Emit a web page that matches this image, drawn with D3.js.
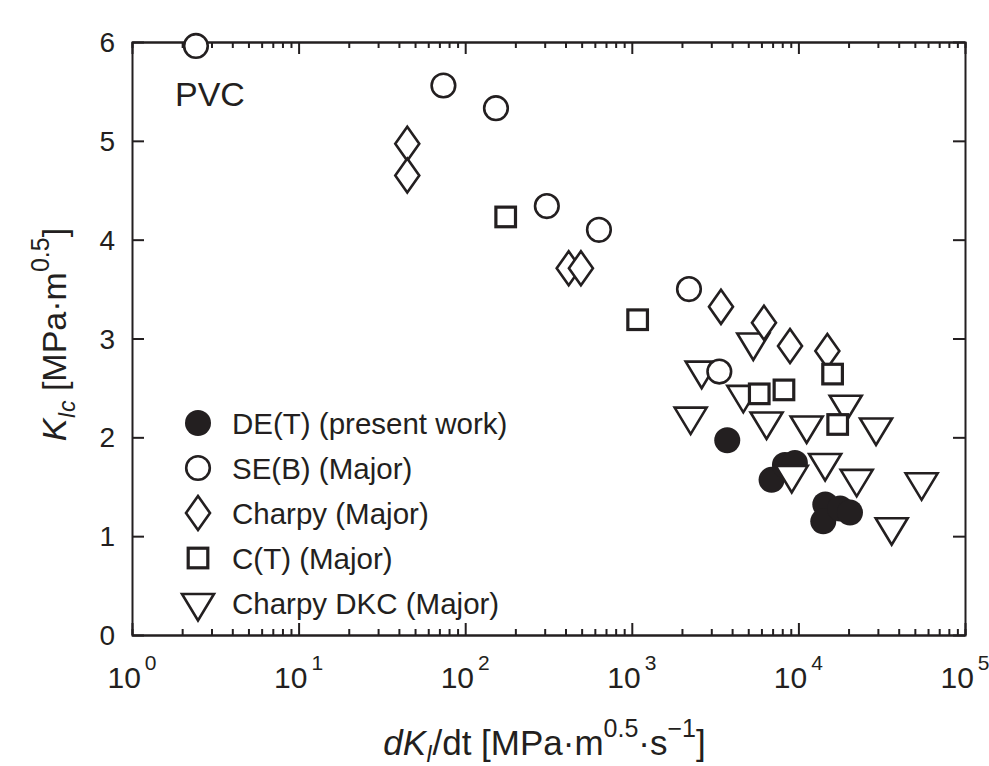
<!DOCTYPE html>
<html>
<head>
<meta charset="utf-8">
<script src="https://cdn.jsdelivr.net/npm/d3@7"></script>
<style>
  body { margin: 0; background: #fff; }
  text { font-family: "Liberation Sans", Arial, sans-serif; fill: #231f20; }
</style>
</head>
<body>
<svg id="chart" width="989" height="766"></svg>
<script>
// values: [dK/dt, KIc]
var deT = [[3740, 1.97], [6900, 1.57], [8300, 1.72], [9530, 1.74],
           [14500, 1.32], [14100, 1.15], [17800, 1.28], [20400, 1.24]];
var seB = [[2.42, 5.96], [74, 5.56], [153, 5.33], [309, 4.34], [635, 4.10],
           [2204, 3.50], [3352, 2.665]];
var charpy = [[44.9, 4.97], [44.9, 4.65], [418, 3.71], [495, 3.71], [3430, 3.32],
              [6214, 3.16], [8906, 2.925], [14920, 2.874]];
var cT = [[175, 4.23], [1084, 3.19], [5820, 2.44], [8190, 2.48], [16040, 2.64], [17210, 2.13]];
var dkc = [[2627, 2.675], [5360, 2.96], [4670, 2.43], [2255, 2.21], [6440, 2.16],
           [11210, 2.12], [19230, 2.33], [29240, 2.10], [9120, 1.62], [14470, 1.74],
           [22380, 1.58], [54900, 1.545], [36300, 1.09]];
var legendLabels = ["DE(T) (present work)", "SE(B) (Major)", "Charpy (Major)", "C(T) (Major)", "Charpy DKC (Major)"];
var xDecades = [0, 1, 2, 3, 4, 5];
var yTicks = [0, 1, 2, 3, 4, 5, 6];

var margins = {top: 42, right: 24, bottom: 131, left: 132},
    width = 989 - margins.left - margins.right,
    height = 766 - margins.top - margins.bottom;

var svg = d3.select('#chart')
  .append('g')
  .attr('transform', 'translate(' + margins.left + ',' + margins.top + ')');

var xScale = d3.scaleLog().domain([1, 1e5]).range([0, width]);
var yScale = d3.scaleLinear().domain([0, 6]).range([height, 0]);

var ink = '#231f20';

// marker shapes
var shapes = {
  filled: function (g) { g.append('circle').attr('r', 13).style('fill', ink); },
  circle: function (g) { g.append('circle').attr('r', 11.8).style('fill', 'white').style('stroke', ink).style('stroke-width', 2.6); },
  diamond: function (g) { g.append('path').attr('d', 'M0,-17L12,0L0,17L-12,0Z').style('fill', 'white').style('stroke', ink).style('stroke-width', 2.6); },
  square: function (g) { g.append('rect').attr('x', -9.8).attr('y', -9.8).attr('width', 19.6).attr('height', 19.6).style('fill', 'white').style('stroke', ink).style('stroke-width', 3.2); },
  triangle: function (g) { g.append('path').attr('d', 'M-16,-9L16,-9L0,17.5Z').style('fill', 'white').style('stroke', ink).style('stroke-width', 2.6); }
};

// axes: ticks point inward on all four sides
var minor = xScale.ticks().filter(function (d) { return Math.abs(Math.log10(d) % 1) > 1e-6; });
var major = xDecades.map(function (d) { return Math.pow(10, d); });

function xAxisGroup(axisFn, ty) {
  var g = svg.append('g').attr('transform', 'translate(0,' + ty + ')');
  g.append('g').call(axisFn(xScale).tickValues(minor).tickSize(-6).tickFormat(''));
  g.append('g').call(axisFn(xScale).tickValues(major).tickSize(-12).tickFormat('').tickSizeOuter(0));
  return g;
}
xAxisGroup(d3.axisBottom, height);
xAxisGroup(d3.axisTop, 0);
svg.append('g').call(d3.axisLeft(yScale).tickValues(yTicks).tickSize(-12).tickFormat('').tickSizeOuter(0));
svg.append('g').attr('transform', 'translate(' + width + ',0)')
  .call(d3.axisRight(yScale).tickValues(yTicks).tickSize(-12).tickFormat('').tickSizeOuter(0));

svg.selectAll('.domain, .tick line').style('stroke', ink).style('stroke-width', 2);

// tick labels
svg.selectAll('.ylab')
  .data(yTicks)
  .enter()
  .append('text')
    .attr('x', -17)
    .attr('y', d => yScale(d))
    .attr('dy', '0.36em')
    .attr('text-anchor', 'end')
    .style('font-size', '28px')
    .text(d => d);

var xl = svg.selectAll('.xlab')
  .data(xDecades)
  .enter()
  .append('text')
    .attr('x', d => xScale(Math.pow(10, d)))
    .attr('y', height + 53)
    .attr('text-anchor', 'middle')
    .style('font-size', '30px');
xl.append('tspan').text('10');
xl.append('tspan').attr('dx', 4).attr('dy', -18).style('font-size', '21px').text(d => d);

// axis titles
var xt = svg.append('text')
  .attr('x', width / 2 - 4)
  .attr('y', height + 120)
  .attr('text-anchor', 'middle')
  .style('font-size', '35px');
xt.append('tspan').style('font-style', 'italic').text('dK');
xt.append('tspan').attr('dy', 7).style('font-size', '23px').style('font-style', 'italic').text('I');
xt.append('tspan').attr('dy', -7).text('/dt [MPa\u00b7m');
xt.append('tspan').attr('dy', -18).style('font-size', '25px').text('0.5');
xt.append('tspan').attr('dy', 18).text('\u00b7s');
xt.append('tspan').attr('dy', -18).style('font-size', '25px').text('\u22121');
xt.append('tspan').attr('dy', 18).text(']');

var yt = svg.append('text')
  .attr('transform', 'translate(' + (-66) + ',' + (height / 2 - 4) + ') rotate(-90)')
  .attr('text-anchor', 'middle')
  .style('font-size', '34px');
yt.append('tspan').style('font-style', 'italic').text('K');
yt.append('tspan').attr('dy', 9).style('font-size', '23px').style('font-style', 'italic').text('Ic');
yt.append('tspan').attr('dy', -9).text(' [MPa\u00b7m');
yt.append('tspan').attr('dy', -17).style('font-size', '25px').text('0.5');
yt.append('tspan').attr('dy', 17).text(']');

svg.append('text')
  .attr('x', 43)
  .attr('y', 64)
  .style('font-size', '34px')
  .text('PVC');

// data points
function plotSeries(data, shape) {
  svg.append('g').selectAll('g')
    .data(data)
    .enter()
    .append('g')
      .attr('transform', d => 'translate(' + xScale(d[0]) + ',' + yScale(d[1]) + ')')
      .each(function () { shapes[shape](d3.select(this)); });
}
plotSeries(deT, 'filled');
plotSeries(dkc, 'triangle');
plotSeries(charpy, 'diamond');
plotSeries(seB, 'circle');
plotSeries(cT, 'square');

// legend
var legendShapes = ['filled', 'circle', 'diamond', 'square', 'triangle'];
var legend = svg.selectAll('.legend')
  .data(legendLabels)
  .enter()
  .append('g')
    .attr('transform', (d, i) => 'translate(66,' + (381 + i * 45) + ')');
legend.each(function (d, i) { shapes[legendShapes[i]](d3.select(this)); });
legend.append('text')
  .attr('x', 34)
  .attr('dy', '0.36em')
  .style('font-size', '29.5px')
  .text(d => d);
</script>
</body>
</html>
